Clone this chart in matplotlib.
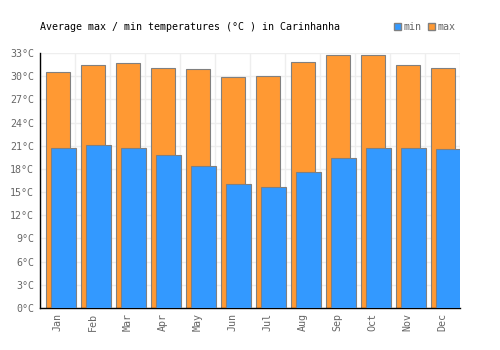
import numpy as np
import matplotlib
matplotlib.use("Agg")
import matplotlib.pyplot as plt
from matplotlib.patches import Patch

months = ["Jan", "Feb", "Mar", "Apr", "May", "Jun",
          "Jul", "Aug", "Sep", "Oct", "Nov", "Dec"]
t_max = [30.6, 31.4, 31.7, 31.1, 30.9, 29.9, 30.0, 31.8, 32.8, 32.8, 31.4, 31.0]
t_min = [20.7, 21.1, 20.7, 19.8, 18.4, 16.0, 15.6, 17.6, 19.4, 20.7, 20.7, 20.55]
y_ticks = list(range(0, 34, 3))
y_labels = ["%d°C" % t for t in y_ticks]

plt.rcParams['font.family'] = ['DejaVu Sans Mono']

orange = "#FF9933"
blue = "#3399FF"
edge = "#808080"
grey_txt = "#666666"

fig = plt.figure(figsize=(5, 3.5), dpi=100)
ax = fig.add_axes([40 / 500, 42 / 350, 420 / 500, 255 / 350])

x = np.arange(len(months))
ax.bar(x + 0.01, t_max, width=0.69, color=orange, edgecolor=edge, linewidth=0.8, zorder=2)
ax.bar(x + 0.17, t_min, width=0.71, color=blue, edgecolor=edge, linewidth=0.8, zorder=3)

ax.set_xlim(-0.5, 11.5)
ax.set_ylim(0, 33)
ax.set_yticks(y_ticks)
ax.set_yticklabels(y_labels)
ax.set_xticks(x)
ax.set_xticklabels(months, rotation=90)
ax.set_xticks(np.arange(-0.5, 12, 1), minor=True)

ax.tick_params(axis='both', which='both', length=0, labelsize=7.2, labelcolor=grey_txt)
ax.tick_params(axis='y', pad=4.3)
ax.tick_params(axis='x', pad=3.5)

ax.set_axisbelow(True)
ax.grid(True, axis='y', which='major', color="#eeeeee", linewidth=1)
ax.grid(True, axis='x', which='minor', color="#eeeeee", linewidth=1)

for s in ['top', 'right']:
    ax.spines[s].set_visible(False)
for s in ['left', 'bottom']:
    ax.spines[s].set_color('black')
    ax.spines[s].set_linewidth(1)

fig.text(40 / 500, 1 - 27 / 350, "Average max / min temperatures (°C ) in Carinhanha",
         fontsize=7.2, color='black', va='center', ha='left')

handles = [Patch(facecolor=blue, edgecolor=edge, label='min'),
           Patch(facecolor=orange, edgecolor=edge, label='max')]
fig.legend(handles=handles, loc='center right', bbox_to_anchor=(456 / 500, 1 - 27 / 350),
           ncol=2, frameon=False, fontsize=7.2, labelcolor=grey_txt,
           handlelength=0.7, handleheight=0.7, handletextpad=0.3,
           columnspacing=0.6, borderpad=0, borderaxespad=0)

fig.savefig("out.png", dpi=100)
